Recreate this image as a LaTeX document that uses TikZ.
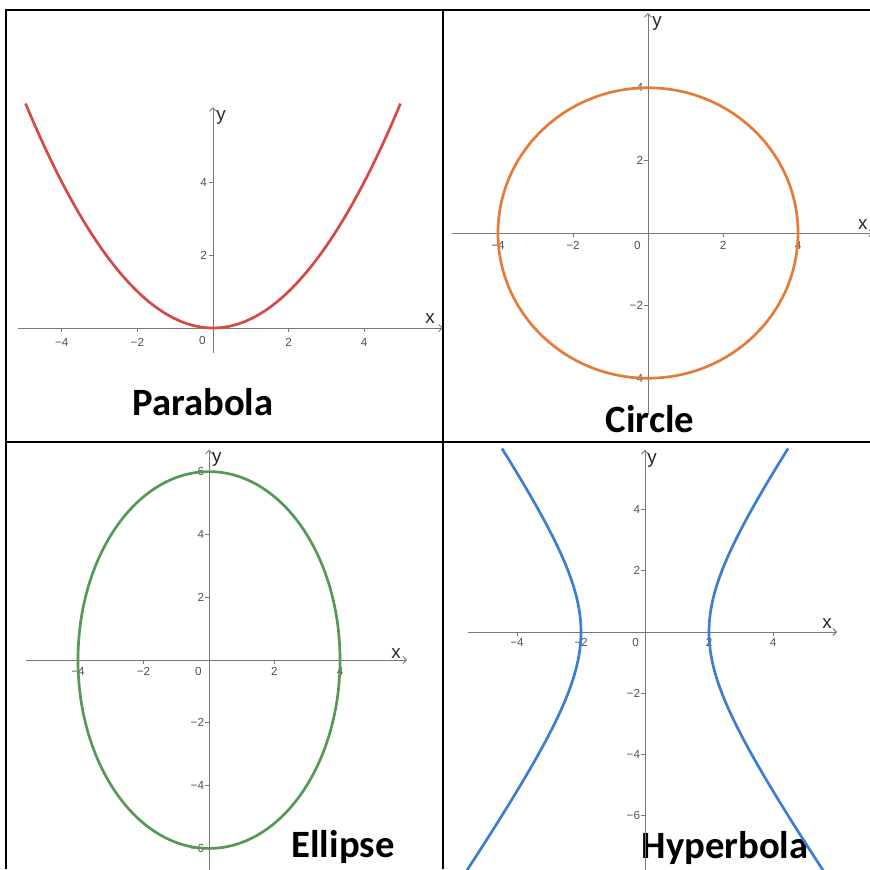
\documentclass[tikz,border=0pt]{standalone}
\usepackage{fontspec}
\setmainfont{Liberation Sans}
\newfontfamily\titlefont{Carlito}
\usepackage{tikz}
\usetikzlibrary{arrows.meta}

\definecolor{axisgray}{RGB}{120,120,120}
\definecolor{ticktext}{RGB}{80,80,80}
\definecolor{parred}{RGB}{214,74,70}
\definecolor{circorange}{RGB}{228,124,54}
\definecolor{ellgreen}{RGB}{86,152,86}
\definecolor{hypblue}{RGB}{60,126,208}

\begin{document}
\begin{tikzpicture}[
    x=0.03cm, y=-0.03cm,
    frame/.style={line width=2.2pt, black},
    axis/.style={axisgray, line width=0.8pt, -{Straight Barb[length=3pt, width=6pt]}},
    tickmark/.style={axisgray, line width=0.6pt},
    curve/.style={line width=2.3pt},
    ticklbl/.style={font=\fontsize{10}{12}\selectfont, text=ticktext, inner sep=0pt},
    axlbl/.style={font=\fontsize{16}{18}\selectfont, text=black!85, inner sep=0pt},
    title/.style={font=\titlefont\bfseries\fontsize{33}{38}\selectfont, anchor=base, inner sep=0pt}
]
    \useasboundingbox (0,0) rectangle (870,869);

    % Frame
    \draw[frame] (6,869) -- (6,10) -- (870,10);
    \draw[frame] (443,10) -- (443,869);
    \draw[frame] (6,442) -- (870,442);

    % Titles
    \node[title] (tpar) at (203,415) {Parabola};
    \node[title] (tcir) at (650,432) {Circle};
    \node[title] (tell) at (343,857) {Ellipse};
    \node[title] (thyp) at (725,858) {Hyperbola};

    % Parabola
    \begin{scope}[shift={(213,328)}, x=1.134cm, y=1.095cm]
        \draw[axis] (-5.16,0) -- (6.08,0);
        \draw[axis] (0,-0.68) -- (0,6.05);
        \foreach \t/\l in {-4/−4, -2/−2, 2/2, 4/4} {
            \draw[tickmark] (\t,0) -- ++(0,-3pt);
            \node[ticklbl] (px\t) at (\t,0) [yshift=-12pt] {\l};
        }
        \foreach \t in {2,4} {
            \draw[tickmark] (0,\t) -- ++(-3pt,0);
            \node[ticklbl, anchor=east] (py\t) at (0,\t) [xshift=-5pt] {\t};
        }
        \node[ticklbl] (po) at (0,0) [xshift=-9pt, yshift=-11pt] {0};
        \node[axlbl] (pxl) at (5.74,0.25) {x};
        \node[axlbl] (pyl) at (0.21,5.78) {y};
        \draw[curve, parred, domain=-4.96:4.96, samples=80] plot (\x, {\x*\x/4});
    \end{scope}

    % Circle
    \begin{scope}[shift={(648,233)}, x=1.125cm, y=1.089cm]
        \draw[axis] (-5.23,0) -- (6.0,0);
        \draw[axis] (0,-5.0) -- (0,6.06);
        \foreach \t/\l in {-4/−4, -2/−2, 2/2, 4/4} {
            \draw[tickmark] (\t,0) -- ++(0,-3pt);
            \node[ticklbl] (cx\t) at (\t,0) [yshift=-11pt] {\l};
            \draw[tickmark] (0,\t) -- ++(-3pt,0);
            \node[ticklbl, anchor=east] (cy\t) at (0,\t) [xshift=-4pt] {\l};
        }
        \node[ticklbl] (co) at (0,0) [xshift=-9pt, yshift=-11pt] {0};
        \node[axlbl] (cxl) at (5.73,0.22) {x};
        \node[axlbl] (cyl) at (0.24,5.76) {y};
        \draw[curve, circorange] (0,0) ellipse [x radius=4, y radius=4];
    \end{scope}

    % Ellipse
    \begin{scope}[shift={(209,660)}, x=0.9825cm, y=0.942cm]
        \draw[axis] (-5.6,0) -- (6.05,0);
        \draw[axis] (0,-6.7) -- (0,6.7);
        \foreach \t/\l in {-4/−4, -2/−2, 2/2, 4/4} {
            \draw[tickmark] (\t,0) -- ++(0,-3pt);
            \node[ticklbl] (ex\t) at (\t,0) [yshift=-10pt] {\l};
        }
        \foreach \t/\l in {-6/−6, -4/−4, -2/−2, 2/2, 4/4, 6/6} {
            \draw[tickmark] (0,\t) -- ++(-3pt,0);
            \node[ticklbl, anchor=east] (ey\t) at (0,\t) [xshift=-4pt] {\l};
        }
        \node[ticklbl] (eo) at (0,0) [xshift=-9pt, yshift=-10pt] {0};
        \node[axlbl] (exl) at (5.71,0.22) {x};
        \node[axlbl] (eyl) at (0.24,6.37) {y};
        \draw[curve, ellgreen] (0,0) ellipse [x radius=4, y radius=6];
    \end{scope}

    % Hyperbola
    \begin{scope}[shift={(645,632)}, x=0.96cm, y=0.918cm]
        \draw[axis] (-5.53,0) -- (6.0,0);
        \draw[axis] (0,-7.8) -- (0,5.95);
        \foreach \t/\l in {-4/−4, -2/−2, 2/2, 4/4} {
            \draw[tickmark] (\t,0) -- ++(0,-3pt);
            \node[ticklbl] (hx\t) at (\t,0) [yshift=-9pt] {\l};
        }
        \foreach \t/\l in {-6/−6, -4/−4, -2/−2, 2/2, 4/4} {
            \draw[tickmark] (0,\t) -- ++(-3pt,0);
            \node[ticklbl, anchor=east] (hy\t) at (0,\t) [xshift=-4pt] {\l};
        }
        \node[ticklbl] (ho) at (0,0) [xshift=-8pt, yshift=-9pt] {0};
        \node[axlbl] (hxl) at (5.69,0.29) {x};
        \node[axlbl] (hyl) at (0.22,5.62) {y};
        \draw[curve, hypblue, domain=-1.75:1.444, samples=80, variable=\s] plot ({2*cosh(\s)}, {3*sinh(\s)});
        \draw[curve, hypblue, domain=-1.75:1.444, samples=80, variable=\s] plot ({-2*cosh(\s)}, {3*sinh(\s)});
    \end{scope}
\end{tikzpicture}
\end{document}
